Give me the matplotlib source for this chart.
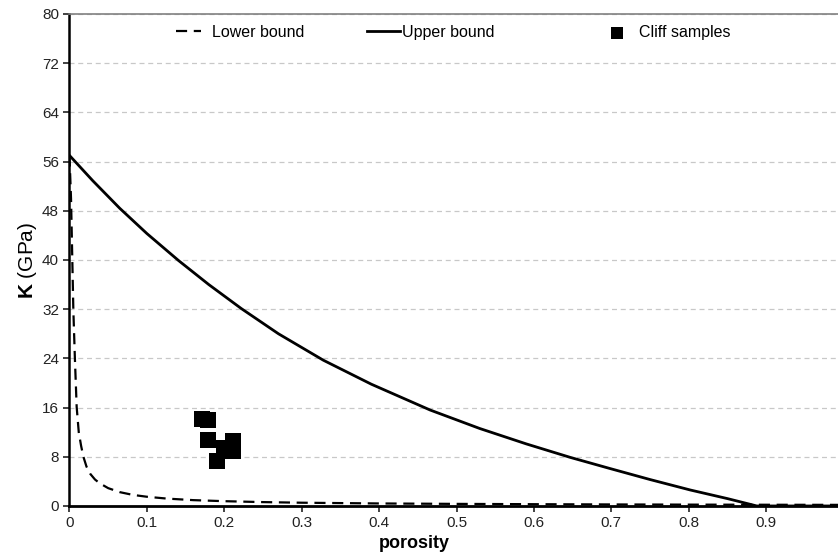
import matplotlib.pyplot as plt

plt.rcParams['font.family'] = ['Liberation Sans', 'DejaVu Sans']
plt.rcParams['mathtext.fontset'] = 'custom'
plt.rcParams['mathtext.bf'] = 'Liberation Sans:bold'
plt.rcParams['mathtext.rm'] = 'Liberation Sans'

# Upper bound
upper_phi = [0, 0.03, 0.065, 0.1, 0.141, 0.18, 0.222, 0.27, 0.328, 0.39, 0.466, 0.53,
             0.59, 0.647, 0.698, 0.75, 0.802, 0.85, 0.888, 1.0]
upper_k = [57, 52.9, 48.4, 44.3, 39.9, 36.0, 32.1, 28.0, 23.7, 19.8, 15.6, 12.6,
           10.1, 7.9, 6.1, 4.3, 2.6, 1.2, 0, 0]

# Lower bound
lower_phi = [0, 0.002, 0.004, 0.005, 0.007, 0.0093, 0.012, 0.015, 0.018, 0.022, 0.027, 0.033,
             0.039, 0.05, 0.065, 0.082, 0.1, 0.126, 0.16, 0.2, 0.25, 0.3, 0.4, 0.5, 0.6, 0.7,
             0.8, 0.9, 1.0]
lower_k = [57, 50, 38, 31.9, 24, 16.1, 12, 9.8, 8.0, 6.4, 5.2, 4.3,
           3.7, 2.9, 2.25, 1.8, 1.5, 1.2, 0.95, 0.78, 0.63, 0.53, 0.41, 0.34, 0.29, 0.25,
           0.22, 0.2, 0.18]

# Cliff samples
sample_phi = [0.171, 0.179, 0.179, 0.211, 0.199, 0.190, 0.211]
sample_k = [14.2, 13.9, 10.8, 10.6, 9.5, 7.35, 9.0]

x_ticks = [0, 0.1, 0.2, 0.3, 0.4, 0.5, 0.6, 0.7, 0.8, 0.9]
x_labels = ['0', '0.1', '0.2', '0.3', '0.4', '0.5', '0.6', '0.7', '0.8', '0.9']
y_ticks = [0, 8, 16, 24, 32, 40, 48, 56, 64, 72, 80]

fig = plt.figure(figsize=(8.38, 5.57), dpi=100)
ax = fig.add_axes([0.0829, 0.0916, 0.9237, 0.8833])

lower_line, = ax.plot(lower_phi, lower_k, color='black', lw=1.6, ls=(0, (5, 3)),
                      label='Lower bound')
upper_line, = ax.plot(upper_phi, upper_k, color='black', lw=2, label='Upper bound')
samples = ax.scatter(sample_phi, sample_k, marker='s', s=120, color='black', linewidths=0,
                     label='Cliff samples', zorder=3)

ax.set_xlim(0, 1)
ax.set_ylim(0, 80)
ax.set_xticks(x_ticks)
ax.set_xticklabels(x_labels)
ax.set_yticks(y_ticks)
ax.tick_params(axis='both', labelsize=11, direction='out', length=4, width=1.2, colors='#222222')
ax.yaxis.grid(True, ls=(0, (4, 3)), color='#c8c8c8', lw=0.9)
ax.set_axisbelow(True)

ax.spines['left'].set_linewidth(1.8)
ax.spines['bottom'].set_linewidth(2)
ax.spines['top'].set_color('#808080')
ax.spines['top'].set_linewidth(1.2)
ax.spines['right'].set_visible(False)

ax.set_xlabel('porosity', fontsize=13, fontweight='bold')
ax.xaxis.set_label_coords(0.446, -0.058)
ax.set_ylabel(r'$\mathbf{K}$ (GPa)', fontsize=15, labelpad=2)

# one legend per entry, spaced like the original
legend_opts = dict(loc='upper left', frameon=False, fontsize=11.5, borderpad=0,
                   borderaxespad=0)
leg1 = ax.legend([lower_line], ['Lower bound'], bbox_to_anchor=(0.137, 0.978),
                 handlelength=1.6, handletextpad=0.7, **legend_opts)
ax.add_artist(leg1)
leg2 = ax.legend([upper_line], ['Upper bound'], bbox_to_anchor=(0.384, 0.978),
                 handlelength=2.1, handletextpad=0.12, **legend_opts)
ax.add_artist(leg2)
ax.legend([samples], ['Cliff samples'], bbox_to_anchor=(0.695, 0.978),
          handlelength=1.2, handletextpad=0.8, markerscale=0.8, **legend_opts)

fig.savefig('out.png', dpi=100)
